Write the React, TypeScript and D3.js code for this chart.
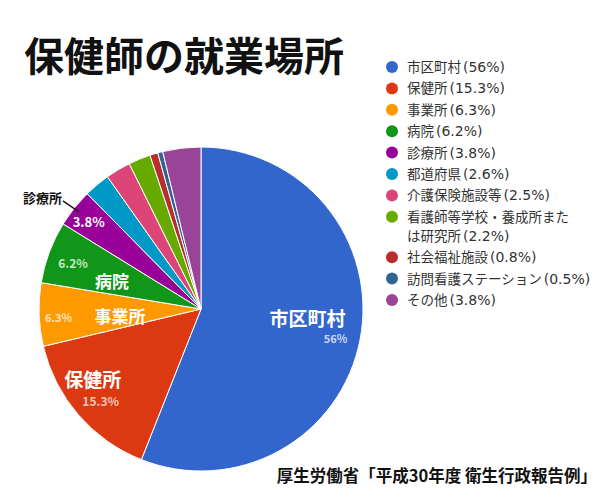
import React from 'react';
import * as d3 from 'd3';

// 保健師の就業場所 (平成30年度 衛生行政報告例)
const categories = ['市区町村', '保健所', '事業所', '病院', '診療所', '都道府県', '介護保険施設等', '看護師等学校・養成所または研究所', '社会福祉施設', '訪問看護ステーション', 'その他'];
const values = [56, 15.3, 6.3, 6.2, 3.8, 2.6, 2.5, 2.2, 0.8, 0.5, 3.8];
const legendNames = [
  ['市区町村'],
  ['保健所'],
  ['事業所'],
  ['病院'],
  ['診療所'],
  ['都道府県'],
  ['介護保険施設等'],
  ['看護師等学校・養成所また', 'は研究所'],
  ['社会福祉施設'],
  ['訪問看護ステーション'],
  ['その他'],
];
const colors = ['#3366cc', '#dc3912', '#ff9900', '#109618', '#990099', '#0099c6', '#dd4477', '#66aa00', '#b82e2e', '#316395', '#994499'];

// labels drawn on the pie
const sliceLabels = [
  { i: 0, text: '市区町村', r: 0.67, dx: 0, dy: -3, size: 19, fill: '#ffffff' },
  { i: 0, text: '56%', r: 0.67, dx: 28, dy: 14, size: 11, fill: '#c9d6f2' },
  { i: 1, text: '保健所', r: 0.68, dx: -25, dy: 6, size: 19, fill: '#ffffff' },
  { i: 1, text: '15.3%', r: 0.68, dx: -17, dy: 25, size: 12, fill: '#f5c6b8' },
  { i: 2, text: '事業所', r: 0.5, dx: 0, dy: 11, size: 17, fill: '#ffffff' },
  { i: 2, text: '6.3%', r: 0.88, dx: 0, dy: 8, size: 11, fill: '#ffe3b8' },
  { i: 3, text: '病院', r: 0.6, dx: 2, dy: 13, size: 17, fill: '#ffffff' },
  { i: 3, text: '6.2%', r: 0.83, dx: -2, dy: 6, size: 12, fill: '#c4e8c6' },
  { i: 4, text: '3.8%', r: 0.87, dx: -2, dy: 6, size: 13, fill: '#ffffff' },
];

const fmt = (v: number) => `(${v}%)`;

const App = () => {
  const width = 600;
  const height = 500;
  const cx = 201;
  const cy = 309;
  const radius = 162;

  const pie = d3.pie<number>().sort(null).value((d) => d);
  const arcs = pie(values);
  const arc = d3.arc<d3.PieArcDatum<number>>().innerRadius(0).outerRadius(radius);

  const polar = (a: number, r: number) => [Math.sin(a) * r, -Math.cos(a) * r];
  const mid = (d: d3.PieArcDatum<number>) => (d.startAngle + d.endAngle) / 2;

  // leader line for 診療所
  const sk = arcs[4];
  const [ex, ey] = polar(mid(sk), radius - 6);

  const font = '"Noto Sans CJK JP", "Noto Sans", sans-serif';
  const latin = '"DejaVu Sans", "Noto Sans CJK JP", sans-serif';

  return (
    <svg width={width} height={height} style={{ position: 'absolute', left: 0, top: 0, background: '#fff' }}>
      <text x={24} y={71} fontFamily={font} fontWeight="bold" fontSize={40} fill="#111">保健師の就業場所</text>

      <g transform={`translate(${cx},${cy})`}>
        {arcs.map((d, i) => (
          <path key={categories[i]} d={arc(d) || ''} fill={colors[i]} stroke="#fff" strokeWidth={1} />
        ))}
        {sliceLabels.map((l, k) => {
          const [x, y] = polar(mid(arcs[l.i]), radius * l.r);
          return (
            <text key={k} x={x + l.dx} y={y + l.dy} textAnchor="middle" fontFamily={font}
              fontWeight="bold" fontSize={l.size} fill={l.fill}>{l.text}</text>
          );
        })}
        <line x1={ex - 16} y1={ey - 11} x2={ex} y2={ey} stroke="#111" strokeWidth={1.3} />
        <text x={ex - 17} y={ey - 9} textAnchor="end" fontFamily={font} fontWeight="bold" fontSize={13} fill="#111">{categories[4]}</text>
      </g>

      <g transform="translate(392,67)">
        {legendNames.map((lines, i) => {
          const y = i * 21.4 + (i > 7 ? 19 : 0);
          return (
            <g key={i} transform={`translate(0,${y})`}>
              <circle cx={0} cy={0} r={6} fill={colors[i]} />
              {lines.map((t, j) => (
                <text key={j} x={15} y={5 + j * 19} fontFamily={font} fontSize={13.5} fill="#333">
                  {t}
                  {j === lines.length - 1 && (
                    <tspan fontFamily={latin} fontSize={14} dx={2}>{fmt(values[i])}</tspan>
                  )}
                </text>
              ))}
            </g>
          );
        })}
      </g>

      <text x={597} y={482} textAnchor="end" fontFamily={font} fontWeight="bold" fontSize={16.5} fill="#111">厚生労働省「平成30年度 衛生行政報告例」</text>
    </svg>
  );
};

export default App;
